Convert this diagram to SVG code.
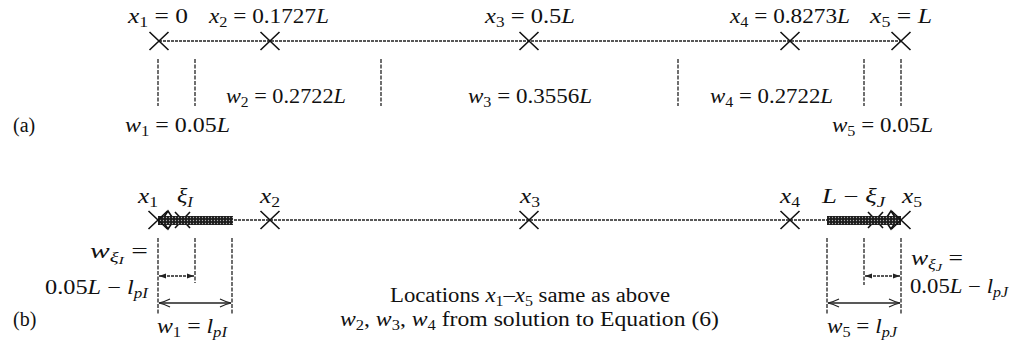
<svg xmlns="http://www.w3.org/2000/svg" width="1011" height="341" viewBox="0 0 1011 341" font-family="'Liberation Serif', 'DejaVu Serif', serif">
<style>
text{font-family:"Liberation Serif","DejaVu Serif",serif;font-size:20px;fill:#111}
.i{font-style:italic}
.sub{font-size:14px}
.ss{font-size:11px;font-style:italic}
.axis{stroke:#222;stroke-width:1.5;stroke-dasharray:3 1;fill:none}
.dim{stroke:#222;stroke-width:1.3;stroke-dasharray:4 1.5;fill:none}
.cross{stroke:#111;stroke-width:1.6;fill:none}
.arr{stroke:#222;stroke-width:1.3;fill:none}
</style>
<defs>
<pattern id="dots" width="3" height="3" patternUnits="userSpaceOnUse">
<rect width="3" height="3" fill="#1c1c1c"/>
<circle cx="1.5" cy="1.5" r="0.65" fill="#aaa"/>
</pattern>
<marker id="open" markerUnits="userSpaceOnUse" markerWidth="14" markerHeight="10" refX="12" refY="5" orient="auto-start-reverse">
<path d="M1,1 Q7,4 12,5 Q7,6 1,9" fill="none" stroke="#222" stroke-width="1.2"/>
</marker>
<marker id="small" markerUnits="userSpaceOnUse" markerWidth="8" markerHeight="6" refX="7" refY="3" orient="auto-start-reverse">
<path d="M0,0.5 L7,3 L0,5.5 Z" fill="#222"/>
</marker>
</defs>

<g id="panel-a">
<g id="a-label"><text x="13" y="132">(a)</text></g>
<g id="a-connectors">
<line class="axis" x1="159" y1="41" x2="901" y2="41"/>
<line class="dim" x1="158" y1="59" x2="158" y2="106"/>
<line class="dim" x1="195" y1="59" x2="195" y2="106"/>
<line class="dim" x1="381" y1="59" x2="381" y2="106"/>
<line class="dim" x1="678" y1="59" x2="678" y2="106"/>
<line class="dim" x1="864" y1="59" x2="864" y2="106"/>
<line class="dim" x1="901" y1="59" x2="901" y2="106"/>
</g>
<g id="a-x1"><path class="cross" d="M149.5,32 L168.5,50 M149.5,50 L168.5,32"/>
<text x="128" y="23" textLength="60" lengthAdjust="spacingAndGlyphs"><tspan class="i">x</tspan><tspan class="sub" dy="4">1</tspan><tspan dy="-4"> = 0</tspan></text></g>
<g id="a-x2"><path class="cross" d="M260.5,32 L279.5,50 M260.5,50 L279.5,32"/>
<text x="209" y="23" textLength="120" lengthAdjust="spacingAndGlyphs"><tspan class="i">x</tspan><tspan class="sub" dy="4">2</tspan><tspan dy="-4"> = 0.1727</tspan><tspan class="i">L</tspan></text></g>
<g id="a-x3"><path class="cross" d="M519.5,32 L538.5,50 M519.5,50 L538.5,32"/>
<text x="485" y="23" textLength="90" lengthAdjust="spacingAndGlyphs"><tspan class="i">x</tspan><tspan class="sub" dy="4">3</tspan><tspan dy="-4"> = 0.5</tspan><tspan class="i">L</tspan></text></g>
<g id="a-x4"><path class="cross" d="M780.5,32 L799.5,50 M780.5,50 L799.5,32"/>
<text x="730" y="23" textLength="120" lengthAdjust="spacingAndGlyphs"><tspan class="i">x</tspan><tspan class="sub" dy="4">4</tspan><tspan dy="-4"> = 0.8273</tspan><tspan class="i">L</tspan></text></g>
<g id="a-x5"><path class="cross" d="M891.5,32 L910.5,50 M891.5,50 L910.5,32"/>
<text x="870" y="23" textLength="62" lengthAdjust="spacingAndGlyphs"><tspan class="i">x</tspan><tspan class="sub" dy="4">5</tspan><tspan dy="-4"> = </tspan><tspan class="i">L</tspan></text></g>
<g id="a-w1"><text x="125" y="132" textLength="105" lengthAdjust="spacingAndGlyphs"><tspan class="i">w</tspan><tspan class="sub" dy="4">1</tspan><tspan dy="-4"> = 0.05</tspan><tspan class="i">L</tspan></text></g>
<g id="a-w2"><text x="226" y="103" textLength="120" lengthAdjust="spacingAndGlyphs"><tspan class="i">w</tspan><tspan class="sub" dy="4">2</tspan><tspan dy="-4"> = 0.2722</tspan><tspan class="i">L</tspan></text></g>
<g id="a-w3"><text x="468" y="103" textLength="124" lengthAdjust="spacingAndGlyphs"><tspan class="i">w</tspan><tspan class="sub" dy="4">3</tspan><tspan dy="-4"> = 0.3556</tspan><tspan class="i">L</tspan></text></g>
<g id="a-w4"><text x="710" y="103" textLength="123" lengthAdjust="spacingAndGlyphs"><tspan class="i">w</tspan><tspan class="sub" dy="4">4</tspan><tspan dy="-4"> = 0.2722</tspan><tspan class="i">L</tspan></text></g>
<g id="a-w5"><text x="832" y="132" textLength="101" lengthAdjust="spacingAndGlyphs"><tspan class="i">w</tspan><tspan class="sub" dy="4">5</tspan><tspan dy="-4"> = 0.05</tspan><tspan class="i">L</tspan></text></g>
</g>

<g id="panel-b">
<g id="b-label"><text x="13" y="326">(b)</text></g>
<g id="b-connectors">
<line class="axis" x1="158" y1="220" x2="901" y2="220"/>
<line class="dim" x1="158" y1="238" x2="158" y2="314"/>
<line class="dim" x1="195" y1="238" x2="195" y2="283"/>
<line class="dim" x1="232" y1="238" x2="232" y2="314"/>
<line class="dim" x1="827" y1="238" x2="827" y2="314"/>
<line class="dim" x1="864" y1="238" x2="864" y2="285"/>
<line class="dim" x1="901" y1="238" x2="901" y2="314"/>
<line class="arr" x1="159" y1="276" x2="194" y2="276" stroke-dasharray="3 1" marker-start="url(#small)" marker-end="url(#small)"/>
<line class="arr" x1="159" y1="303" x2="231" y2="303" marker-start="url(#open)" marker-end="url(#open)"/>
<line class="arr" x1="865" y1="276" x2="900" y2="276" stroke-dasharray="3 1" marker-start="url(#small)" marker-end="url(#small)"/>
<line class="arr" x1="828" y1="303" x2="900" y2="303" marker-start="url(#open)" marker-end="url(#open)"/>
</g>
<g id="b-hinge-I">
<path class="cross" d="M175,212 L190,228 M175,228 L190,212"/>
<path class="cross" d="M168,211 L174,220 L168,229 L162,220 Z" stroke-width="1.3"/>
<rect x="158" y="216" width="75" height="9" fill="url(#dots)"/>
</g>
<g id="b-hinge-J">
<path class="cross" d="M868,212 L883,228 M868,228 L883,212"/>
<path class="cross" d="M891,211 L897,220 L891,229 L885,220 Z" stroke-width="1.3"/>
<rect x="827" y="216" width="74" height="9" fill="url(#dots)"/>
</g>
<g id="b-x1"><path class="cross" d="M148.5,211 L167.5,229 M148.5,229 L167.5,211"/>
<text x="138" y="203" textLength="20" lengthAdjust="spacingAndGlyphs"><tspan class="i">x</tspan><tspan class="sub" dy="4">1</tspan></text></g>
<g id="b-xiI"><text x="177" y="203" textLength="16" lengthAdjust="spacingAndGlyphs"><tspan class="i">ξ</tspan><tspan class="sub i" dy="4">I</tspan></text></g>
<g id="b-x2"><path class="cross" d="M260.5,211 L279.5,229 M260.5,229 L279.5,211"/>
<text x="260" y="203" textLength="20" lengthAdjust="spacingAndGlyphs"><tspan class="i">x</tspan><tspan class="sub" dy="4">2</tspan></text></g>
<g id="b-x3"><path class="cross" d="M519.5,211 L538.5,229 M519.5,229 L538.5,211"/>
<text x="520" y="203" textLength="20" lengthAdjust="spacingAndGlyphs"><tspan class="i">x</tspan><tspan class="sub" dy="4">3</tspan></text></g>
<g id="b-x4"><path class="cross" d="M780.5,211 L799.5,229 M780.5,229 L799.5,211"/>
<text x="780" y="203" textLength="20" lengthAdjust="spacingAndGlyphs"><tspan class="i">x</tspan><tspan class="sub" dy="4">4</tspan></text></g>
<g id="b-xiJ"><text x="822" y="203" textLength="63" lengthAdjust="spacingAndGlyphs"><tspan class="i">L</tspan><tspan> − </tspan><tspan class="i">ξ</tspan><tspan class="sub i" dy="4">J</tspan></text></g>
<g id="b-x5"><path class="cross" d="M891.5,211 L910.5,229 M891.5,229 L910.5,211"/>
<text x="902" y="203" textLength="20" lengthAdjust="spacingAndGlyphs"><tspan class="i">x</tspan><tspan class="sub" dy="4">5</tspan></text></g>
<g id="b-wxiI">
<text x="90" y="258" textLength="58" lengthAdjust="spacingAndGlyphs"><tspan class="i">w</tspan><tspan class="sub i" dy="4">ξ</tspan><tspan class="ss" dy="2">I</tspan><tspan dy="-6"> =</tspan></text>
<text x="45" y="294" textLength="103" lengthAdjust="spacingAndGlyphs">0.05<tspan class="i">L</tspan> − <tspan class="i">l</tspan><tspan class="sub i" dy="4">pI</tspan></text>
</g>
<g id="b-w1"><text x="157" y="333" textLength="70" lengthAdjust="spacingAndGlyphs"><tspan class="i">w</tspan><tspan class="sub" dy="4">1</tspan><tspan dy="-4"> = </tspan><tspan class="i">l</tspan><tspan class="sub i" dy="4">pI</tspan></text></g>
<g id="b-wxiJ">
<text x="911" y="265" textLength="52" lengthAdjust="spacingAndGlyphs"><tspan class="i">w</tspan><tspan class="sub i" dy="4">ξ</tspan><tspan class="ss" dy="2">J</tspan><tspan dy="-6"> =</tspan></text>
<text x="910" y="293" textLength="98" lengthAdjust="spacingAndGlyphs">0.05<tspan class="i">L</tspan> − <tspan class="i">l</tspan><tspan class="sub i" dy="4">pJ</tspan></text>
</g>
<g id="b-w5"><text x="827" y="333" textLength="70" lengthAdjust="spacingAndGlyphs"><tspan class="i">w</tspan><tspan class="sub" dy="4">5</tspan><tspan dy="-4"> = </tspan><tspan class="i">l</tspan><tspan class="sub i" dy="4">pJ</tspan></text></g>
<g id="b-note">
<text x="390" y="302" textLength="280" lengthAdjust="spacingAndGlyphs">Locations <tspan class="i">x</tspan><tspan class="sub" dy="4">1</tspan><tspan dy="-4">–</tspan><tspan class="i">x</tspan><tspan class="sub" dy="4">5</tspan><tspan dy="-4"> same as above</tspan></text>
<text x="340" y="326" textLength="379" lengthAdjust="spacingAndGlyphs"><tspan class="i">w</tspan><tspan class="sub" dy="4">2</tspan><tspan dy="-4">, </tspan><tspan class="i">w</tspan><tspan class="sub" dy="4">3</tspan><tspan dy="-4">, </tspan><tspan class="i">w</tspan><tspan class="sub" dy="4">4</tspan><tspan dy="-4"> from solution to Equation (6)</tspan></text>
</g>
</g>
</svg>
